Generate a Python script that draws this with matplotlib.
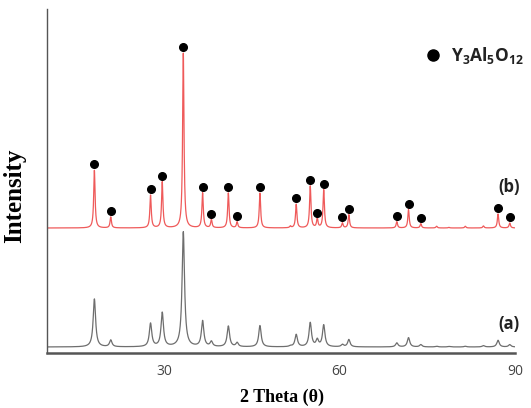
import numpy as np
import matplotlib.pyplot as plt

plt.rcParams['mathtext.fontset'] = 'custom'
plt.rcParams['mathtext.bf'] = 'Open Sans:bold'
plt.rcParams['mathtext.rm'] = 'Open Sans'

# YAG reflections (2 theta, deg) and peak heights
peak_pos = [18.1, 20.9, 27.7, 29.7, 33.3, 36.6, 38.1, 41.0, 42.5, 46.4, 52.6,
            55.0, 56.2, 57.3, 60.5, 61.6, 69.8, 71.8, 73.9, 87.1, 89.1]
red_h = [57.7, 11, 32.7, 46, 175, 35, 8.3, 35, 6, 35, 23.7,
         42, 9.3, 38.3, 5, 13.3, 6.3, 18.3, 4.3, 14, 5]
gray_h = [48, 6.7, 23.3, 34, 115, 25.7, 5, 20.7, 4, 21.3, 12.3,
          24, 6.7, 21.7, 2.3, 7.3, 4, 9.3, 2.3, 6.7, 2.3]

# small unmarked bumps
minor_pos = [51.6, 76.6, 78.7, 81.5, 84.6]
red_minor = [1.7, 1.7, 0.6, 1.7, 2.0]
gray_minor = [0.8, 0.7, 0.5, 0.7, 1.3]

red_offset = 125
gray_offset = 6

tt = np.linspace(10, 90, 4000)


def profile(pos, h, fwhm):
    y = np.zeros_like(tt)
    g = fwhm / 2
    for p, a in zip(pos, h):
        y += a * g**2 / ((tt - p)**2 + g**2)
    return y


red = red_offset + profile(peak_pos + minor_pos, red_h + red_minor, 0.28)
gray = gray_offset + profile(peak_pos + minor_pos, gray_h + gray_minor, 0.5)

fig = plt.figure(figsize=(5.31, 4.08), dpi=100)
ax = fig.add_axes([47/531, 1-353/408, (515-47)/531, (353-9)/408])

ax.plot(tt, gray, color='#6e6e6e', lw=0.9)
ax.plot(tt, red, color='#ef5a5a', lw=0.9)
ax.plot(peak_pos, np.array(red_h) + red_offset + 6, 'o', color='black', ms=5.5)

ax.set_xlim(10, 90)
ax.set_ylim(0, 344)
ax.set_xticks([30, 60, 90])
ax.set_yticks([])
ax.tick_params(axis='x', length=0, pad=8, labelsize=10, labelcolor='#444444')
for lab in ax.get_xticklabels():
    lab.set_family('Open Sans')
for s in ['top', 'right']:
    ax.spines[s].set_visible(False)
ax.spines['left'].set_color('#555555')
ax.spines['left'].set_linewidth(1.0)
ax.spines['bottom'].set_color('#555555')
ax.spines['bottom'].set_linewidth(1.8)

ax.text(89.0, 166, '(b)', ha='center', va='center', fontsize=12,
        fontweight='bold', family='Open Sans', color='#222222')
ax.text(89.0, 29, '(a)', ha='center', va='center', fontsize=12,
        fontweight='bold', family='Open Sans', color='#222222')

ax.plot([76.0], [298], 'o', color='black', ms=8, clip_on=False)
ax.text(79.0, 298, r'$\mathbf{Y_3Al_5O_{12}}$', ha='left', va='center', fontsize=12.5,
        color='#222222')

fig.text(14.5/531, 1-196/408, 'Intensity', rotation=90, ha='center', va='center',
         fontsize=18, fontweight='bold', family='Liberation Serif')
fig.text(281.5/531, 1-397/408, '2 Theta (θ)', ha='center', va='center',
         fontsize=13, fontweight='bold', family='Liberation Serif')

fig.savefig('out.png', dpi=100)
